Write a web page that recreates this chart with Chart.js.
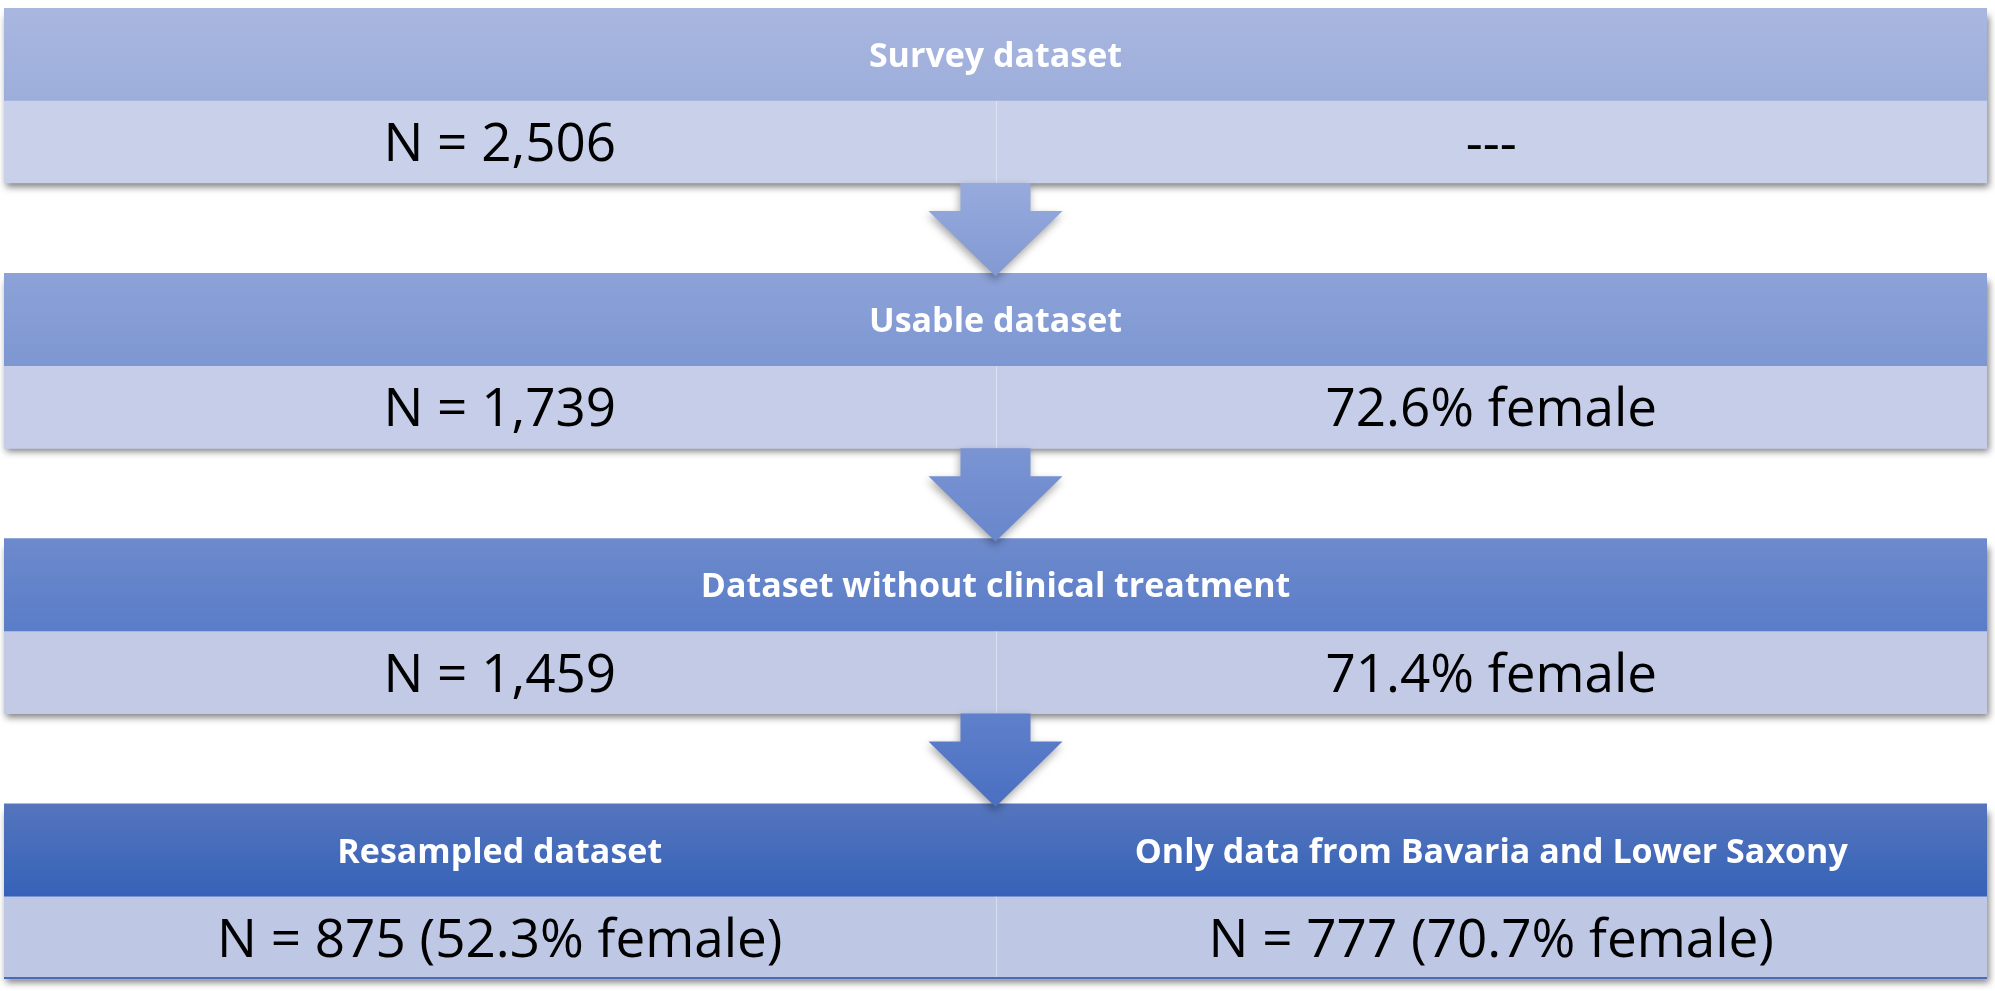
<!DOCTYPE html>
<html>
<head>
<meta charset="utf-8">
<script src="https://cdn.jsdelivr.net/npm/chart.js@4.4.1/dist/chart.umd.min.js"></script>
<style>
  html, body { margin: 0; padding: 0; background: #ffffff; }
  #wrap { width: 1995px; height: 991px; position: relative; }
</style>
</head>
<body>
<div id="wrap"><canvas id="c"></canvas></div>
<script>
// ---------------- data ----------------
const stageTitles = ['Survey dataset', 'Usable dataset', 'Dataset without clinical treatment', 'Resampled dataset'];
const sampleN = [2506, 1739, 1459, 875];
const femalePct = [null, 72.6, 71.4, 52.3];
const branchTitle = 'Only data from Bavaria and Lower Saxony';
const branchN = 777;
const branchFemalePct = 70.7;

// ---------------- style ----------------
const headerTop = ['#A9B7E0', '#8CA2D8', '#6D8ACC', '#5575BD'];
const headerBottom = ['#9DAEDB', '#7E97D2', '#5A7DC8', '#3562B8'];
const bodyColors = ['#C9D0EA', '#C6CDE9', '#C2CAE6', '#BEC8E5'];
const arrowTop = ['#96AADC', '#7B95D3', '#5F80CB'];
const arrowBottom = ['#8299D3', '#6886CC', '#4A6FC1'];

const W = 1995, H = 991, PAD_L = 4, PAD_R = 8, PAD_T = 8;
const STEP = 265.3;                 // pixels per stage on the y scale
const HEAD_U = 93 / STEP;           // header row height in stage units
const BODY_U = 82 / STEP;           // body row height in stage units
const Y_MAX = (H - PAD_T) / STEP;

const fmt = n => n.toLocaleString('en-US');
const leftTexts = stageTitles.map((t, i) => i < 3 ? `N = ${fmt(sampleN[i])}` : `N = ${fmt(sampleN[i])} (${femalePct[i]}% female)`);
const rightTexts = stageTitles.map((t, i) => i === 3 ? `N = ${fmt(branchN)} (${branchFemalePct}% female)` : (femalePct[i] == null ? '---' : `${femalePct[i]}% female`));

function headerGrad(ctx) {
  const chart = ctx.chart;
  const ys = chart.scales && chart.scales.y;
  const i = ctx.dataIndex || 0;
  if (!ys || ctx.type !== 'data' || !ctx.raw) return headerTop[i];
  const c = ys.getPixelForValue(ctx.raw.y);
  const half = HEAD_U * STEP / 2;
  if (!isFinite(c)) return headerTop[i];
  const g = chart.ctx.createLinearGradient(0, c - half, 0, c + half);
  g.addColorStop(0, headerTop[i]);
  g.addColorStop(1, headerBottom[i]);
  return g;
}

// soft drop shadow behind each whole stage box
const shadowPlugin = {
  id: 'boxShadow',
  beforeDatasetsDraw(chart) {
    const c = chart.ctx;
    const xs = chart.scales.x, ys = chart.scales.y;
    c.save();
    c.shadowColor = 'rgba(0,0,0,0.5)';
    c.shadowBlur = 7;
    c.shadowOffsetX = 2;
    c.shadowOffsetY = 4;
    stageTitles.forEach((t, i) => {
      const x0 = xs.getPixelForValue(0), x1 = xs.getPixelForValue(2);
      const y0 = ys.getPixelForValue(i), y1 = ys.getPixelForValue(i + HEAD_U + BODY_U);
      c.fillStyle = bodyColors[i];
      c.fillRect(x0, y0 + 4, x1 - x0, y1 - y0 - 4);
    });
    c.restore();
  }
};

const overlayPlugin = {
  id: 'overlay',
  afterDatasetsDraw(chart) {
    const c = chart.ctx;
    const xs = chart.scales.x, ys = chart.scales.y;
    const unitX = xs.getPixelForValue(1) - xs.getPixelForValue(0);

    // column dividers in body rows
    c.save();
    c.strokeStyle = 'rgba(255,255,255,0.4)';
    c.lineWidth = 1;
    stageTitles.forEach((t, i) => {
      const x = Math.round(xs.getPixelForValue(1)) + 0.5;
      c.beginPath();
      c.moveTo(x, ys.getPixelForValue(i + HEAD_U));
      c.lineTo(x, ys.getPixelForValue(i + HEAD_U + BODY_U));
      c.stroke();
    });
    // bottom border of last box
    c.strokeStyle = '#4A6CB8';
    c.lineWidth = 2;
    const yb = ys.getPixelForValue(3 + HEAD_U + BODY_U) - 1;
    c.beginPath(); c.moveTo(xs.getPixelForValue(0), yb); c.lineTo(xs.getPixelForValue(2), yb); c.stroke();
    c.restore();

    // arrows between stages
    for (let i = 0; i < stageTitles.length - 1; i++) {
      const yStart = ys.getPixelForValue(i + HEAD_U + BODY_U);
      const yNext = ys.getPixelForValue(i + 1);
      const headStart = yStart + (yNext - yStart) * 0.31;
      const tip = yNext + 3;
      const xc = xs.getPixelForValue(1);
      const sh = 0.0353 * unitX, hh = 0.0676 * unitX;
      c.save();
      c.shadowColor = 'rgba(0,0,0,0.35)';
      c.shadowBlur = 8;
      c.shadowOffsetX = -1;
      c.shadowOffsetY = 4;
      const g = c.createLinearGradient(0, yStart, 0, tip);
      g.addColorStop(0, arrowTop[i]);
      g.addColorStop(1, arrowBottom[i]);
      c.fillStyle = g;
      c.beginPath();
      c.moveTo(xc - sh, yStart);
      c.lineTo(xc + sh, yStart);
      c.lineTo(xc + sh, headStart);
      c.lineTo(xc + hh, headStart);
      c.lineTo(xc, tip);
      c.lineTo(xc - hh, headStart);
      c.lineTo(xc - sh, headStart);
      c.closePath();
      c.fill();
      c.restore();
    }

    // texts
    const HEAD_SIZE = 34, BODY_SIZE = 53, CAP = 0.714;
    c.save();
    c.textAlign = 'center';
    c.textBaseline = 'alphabetic';
    stageTitles.forEach((t, i) => {
      const hc = ys.getPixelForValue(i + HEAD_U / 2);
      const bc = ys.getPixelForValue(i + HEAD_U + BODY_U / 2);
      c.fillStyle = '#FFFFFF';
      c.font = `bold ${HEAD_SIZE}px "Open Sans", "DejaVu Sans", sans-serif`;
      if (i < 3) {
        c.fillText(t, xs.getPixelForValue(1), hc + HEAD_SIZE * CAP / 2);
      } else {
        c.fillText(t, xs.getPixelForValue(0.5), hc + HEAD_SIZE * CAP / 2);
        c.fillText(branchTitle, xs.getPixelForValue(1.5), hc + HEAD_SIZE * CAP / 2);
      }
      c.fillStyle = '#000000';
      c.font = `${BODY_SIZE}px "Open Sans", "DejaVu Sans", sans-serif`;
      c.fillText(leftTexts[i], xs.getPixelForValue(0.5), bc + BODY_SIZE * CAP / 2);
      c.fillText(rightTexts[i], xs.getPixelForValue(1.5), bc + BODY_SIZE * CAP / 2);
    });
    c.restore();
  }
};

new Chart(document.getElementById('c'), {
  type: 'bar',
  data: {
    datasets: [
      {
        label: 'Stage header',
        data: stageTitles.map((t, i) => ({ x: [0, 2], y: i + HEAD_U / 2 })),
        backgroundColor: headerGrad,
        barThickness: HEAD_U * STEP,
        grouped: false,
        borderWidth: 0,
        order: 3
      },
      {
        label: 'Left column',
        data: stageTitles.map((t, i) => ({ x: [0, 1], y: i + HEAD_U + BODY_U / 2 })),
        backgroundColor: ctx => bodyColors[ctx.dataIndex || 0],
        barThickness: BODY_U * STEP,
        grouped: false,
        borderWidth: 0,
        order: 2
      },
      {
        label: 'Right column',
        data: stageTitles.map((t, i) => ({ x: [1, 2], y: i + HEAD_U + BODY_U / 2 })),
        backgroundColor: ctx => bodyColors[ctx.dataIndex || 0],
        barThickness: BODY_U * STEP,
        grouped: false,
        borderWidth: 0,
        order: 1
      }
    ]
  },
  options: {
    indexAxis: 'y',
    responsive: true,
    maintainAspectRatio: false,
    animation: false,
    devicePixelRatio: 1,
    layout: { padding: { left: PAD_L, right: PAD_R, top: PAD_T, bottom: 0 } },
    scales: {
      x: { type: 'linear', min: 0, max: 2, display: false, offset: false, grid: { offset: false } },
      y: { type: 'linear', min: 0, max: Y_MAX, reverse: true, display: false, offset: false, grid: { offset: false } }
    },
    plugins: { legend: { display: false }, tooltip: { enabled: false } }
  },
  plugins: [shadowPlugin, overlayPlugin]
});
</script>
</body>
</html>
